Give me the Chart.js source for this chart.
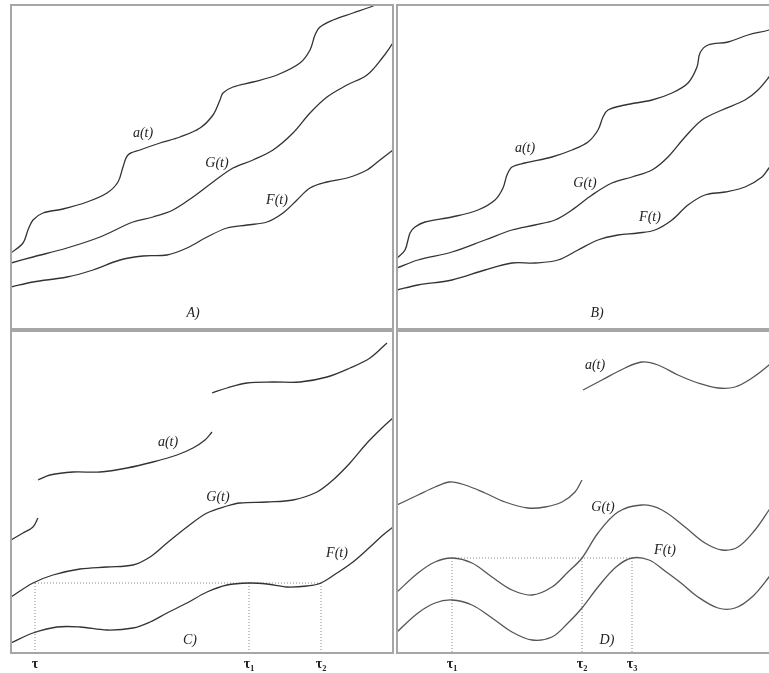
<!DOCTYPE html>
<html>
<head>
<meta charset="utf-8">
<script src="https://cdn.jsdelivr.net/npm/chart.js@4/dist/chart.umd.min.js"></script>
<style>
	html, body { margin: 0; padding: 0; background: #fff; overflow: hidden; }
	#wrap { position: relative; width: 769px; height: 673px; overflow: hidden; }
	#wrap canvas { position: absolute; }
</style>
</head>
<body>
<div id="wrap">
	<canvas id="cA"></canvas>
	<canvas id="cB"></canvas>
	<canvas id="cC"></canvas>
	<canvas id="cD"></canvas>
</div>
<script>
// values: [t, value] in each panel's own units
const A_a = [[0,76],[12,86],[17,99],[22,109],[32,116],[52,120],[76,127],[96,136],[107,147],[112,162],[117,174],[129,179],[149,186],[169,192],[189,201],[202,214],[209,229],[212,236],[222,242],[242,247],[266,254],[289,266],[299,279],[304,294],[309,302],[322,309],[342,316],[362,323],[380,331]];
const A_G = [[0,66],[22,72],[56,81],[89,92],[122,107],[142,112],[162,119],[182,132],[202,147],[222,161],[242,169],[262,179],[282,196],[299,216],[316,232],[336,244],[356,254],[372,272],[382,286]];
const A_F = [[0,42],[22,47],[56,52],[82,59],[109,69],[132,73],[156,74],[176,81],[196,92],[216,101],[236,104],[256,107],[272,116],[286,129],[299,141],[316,147],[336,151],[356,159],[369,169],[382,179]];

const B_a = [[0,71],[8,79],[13,96],[18,102],[28,107],[55,112],[81,119],[98,129],[106,141],[110,154],[115,162],[128,166],[155,172],[175,179],[191,187],[201,199],[206,212],[211,219],[228,224],[255,229],[275,236],[291,246],[300,262],[303,276],[311,284],[331,287],[351,294],[372,299],[382,303]];
const B_G = [[0,61],[21,69],[55,77],[88,89],[115,99],[138,104],[158,109],[175,119],[195,134],[215,146],[235,152],[255,159],[271,172],[288,192],[305,209],[325,219],[348,229],[361,239],[372,252],[382,266]];
const B_F = [[0,39],[21,44],[55,49],[88,59],[115,66],[138,66],[161,69],[181,79],[201,89],[221,94],[241,96],[258,99],[275,109],[291,124],[308,134],[328,137],[348,142],[365,152],[372,161],[382,172]];

const C_a1 = [[0,113],[12,120],[22,126],[27,135]];
const C_a2 = [[27,173],[39,178],[62,181],[89,181],[116,185],[142,191],[166,198],[182,205],[194,213],[201,221]];
const C_a3 = [[201,260],[216,265],[236,270],[262,271],[289,271],[316,276],[339,285],[359,295],[376,310]];
const C_G = [[0,56],[22,70],[42,78],[69,84],[96,86],[122,88],[139,96],[156,110],[176,126],[196,140],[216,147],[229,150],[256,151],[282,153],[306,161],[322,173],[339,190],[356,210],[372,226],[382,235]];
const C_F = [[0,10],[22,20],[46,26],[69,26],[96,23],[122,25],[139,31],[156,40],[176,50],[196,61],[216,68],[238,70],[256,69],[276,66],[296,67],[310,70],[326,80],[342,91],[359,106],[372,118],[382,126]];

const D_a1 = [[0,148],[21,158],[38,166],[53,171],[68,168],[88,160],[108,151],[131,145],[148,146],[165,151],[178,161],[185,173]];
const D_a2 = [[186,263],[205,273],[228,285],[245,291],[261,288],[281,278],[301,270],[321,265],[338,266],[355,275],[372,288],[382,298]];
const D_G = [[0,61],[21,80],[38,91],[55,95],[75,90],[95,76],[115,63],[135,58],[155,66],[171,81],[185,95],[201,120],[221,141],[245,148],[265,143],[288,126],[308,110],[325,103],[341,106],[358,123],[372,143],[382,158]];
const D_F = [[0,21],[21,40],[38,50],[55,53],[75,48],[95,35],[115,21],[135,13],[155,16],[171,30],[185,45],[201,66],[219,86],[235,95],[252,93],[268,82],[284,70],[301,56],[321,45],[338,45],[355,56],[372,76],[382,90]];

// tick marks on the time axis and the dotted level
const tauC = [24, 238, 310];
const tauCNames = ['τ', 'τ₁', 'τ₂'];
const levelC = 70;
const tauD = [55, 185, 235];
const tauDNames = ['τ₁', 'τ₂', 'τ₃'];
const levelD = 95;

const PAD = 2;
const AXIS_H = 20;

const framePlugin = {
	id: 'frame',
	afterDraw(chart, args, opts) {
		const { ctx, chartArea: a, scales } = chart;
		ctx.save();
		ctx.strokeStyle = '#a6a6a6';
		ctx.lineWidth = 2;
		ctx.strokeRect(a.left, a.top, a.right - a.left, a.bottom - a.top);
		ctx.fillStyle = '#222';
		ctx.textAlign = 'center';
		ctx.textBaseline = 'middle';
		ctx.font = 'italic 14px "Liberation Serif", serif';
		(opts.labels || []).forEach(l => {
			ctx.fillText(l[0], scales.x.getPixelForValue(l[1]), scales.y.getPixelForValue(l[2]));
		});
		ctx.restore();
	}
};

function curve(points, color) {
	return {
		data: points.map(p => ({ x: p[0], y: p[1] })),
		borderColor: color || '#333',
		borderWidth: 1.3,
		pointRadius: 0,
		fill: false,
		tension: 0.35
	};
}

function dotted(points) {
	return {
		data: points.map(p => ({ x: p[0], y: p[1] })),
		borderColor: '#8a8a8a',
		borderWidth: 1,
		borderDash: [1, 2],
		pointRadius: 0,
		fill: false,
		tension: 0
	};
}

function guides(tau, level) {
	const sets = [dotted([[tau[0], level], [tau[tau.length - 1], level]])];
	tau.forEach(t => sets.push(dotted([[t, level], [t, 0]])));
	return sets;
}

function makePanel(id, box, datasets, labels, tau, tauNames) {
	const canvas = document.getElementById(id);
	const withAxis = !!tau;
	canvas.width = box.w + 2 * PAD;
	canvas.height = box.h + 2 * PAD + (withAxis ? AXIS_H : 0);
	canvas.style.left = (box.left - PAD) + 'px';
	canvas.style.top = (box.top - PAD) + 'px';

	new Chart(canvas, {
		type: 'line',
		data: { datasets: datasets },
		plugins: [framePlugin],
		options: {
			responsive: false,
			animation: false,
			events: [],
			layout: { padding: PAD },
			scales: {
				x: {
					type: 'linear',
					min: 0,
					max: box.w,
					display: withAxis,
					grid: { display: false, drawTicks: false },
					border: { display: false },
					afterBuildTicks: s => { if (withAxis) s.ticks = tau.map(v => ({ value: v })); },
					afterFit: s => { if (withAxis) s.height = AXIS_H; },
					ticks: {
						autoSkip: false,
						maxRotation: 0,
						padding: 3,
						color: '#222',
						font: { family: '"Liberation Serif", serif', size: 14, weight: 'bold' },
						callback: (v, i) => withAxis ? tauNames[i] : ''
					}
				},
				y: { min: 0, max: box.h, display: false }
			},
			plugins: {
				legend: { display: false },
				tooltip: { enabled: false },
				frame: { labels: labels }
			}
		}
	});
}

makePanel('cA', { left: 11, top: 5, w: 382, h: 324 },
	[curve(A_a), curve(A_G), curve(A_F)],
	[['a(t)', 132, 196], ['G(t)', 206, 166], ['F(t)', 266, 129], ['A)', 182, 16]]);

makePanel('cB', { left: 397, top: 5, w: 382, h: 324 },
	[curve(B_a), curve(B_G), curve(B_F)],
	[['a(t)', 128, 181], ['G(t)', 188, 146], ['F(t)', 253, 112], ['B)', 200, 16]]);

makePanel('cC', { left: 11, top: 331, w: 382, h: 322 },
	[curve(C_a1), curve(C_a2), curve(C_a3), curve(C_G), curve(C_F)].concat(guides(tauC, levelC)),
	[['a(t)', 157, 211], ['G(t)', 207, 156], ['F(t)', 326, 100], ['C)', 179, 13]],
	tauC, tauCNames);

makePanel('cD', { left: 397, top: 331, w: 382, h: 322 },
	[curve(D_a1, '#555'), curve(D_a2, '#555'), curve(D_G, '#555'), curve(D_F, '#555')].concat(guides(tauD, levelD)),
	[['a(t)', 198, 288], ['G(t)', 206, 146], ['F(t)', 268, 103], ['D)', 210, 13]],
	tauD, tauDNames);
</script>
</body>
</html>
